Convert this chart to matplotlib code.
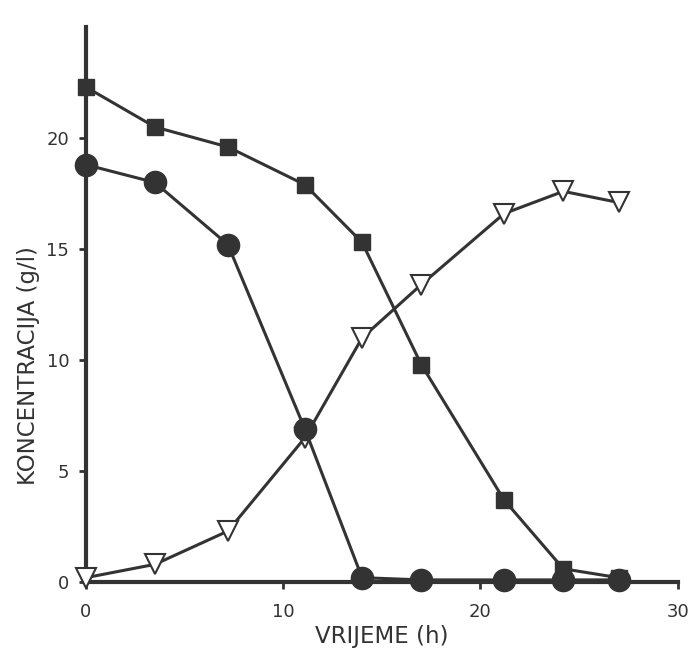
import matplotlib
matplotlib.use("Agg")
import matplotlib.pyplot as plt

# time in hours
time_h = [0, 3.5, 7.2, 11.1, 14, 17, 21.2, 24.2, 27]

# series (g/l)
squares = [22.3, 20.5, 19.6, 17.9, 15.3, 9.8, 3.7, 0.6, 0.2]
circles = [18.8, 18.0, 15.2, 6.9, 0.2, 0.1, 0.1, 0.1, 0.1]
triangles = [0.2, 0.8, 2.3, 6.5, 11.0, 13.4, 16.6, 17.6, 17.1]

xticks = [0, 10, 20, 30]
yticks = [0, 5, 10, 15, 20]

ink = "#333333"

plt.rcParams['font.family'] = ['DejaVu Sans']

fig = plt.figure(figsize=(6.98, 6.6), dpi=100)
ax = fig.add_axes([0.123, 0.118, 0.848, 0.841])

ax.plot(time_h, squares, color=ink, lw=2.2, marker='s', markersize=11,
        markerfacecolor=ink, markeredgecolor=ink, clip_on=False, zorder=3)
ax.plot(time_h, triangles, color=ink, lw=2.2, marker='v', markersize=14,
        markerfacecolor='white', markeredgecolor=ink, markeredgewidth=1.5,
        clip_on=False, zorder=4)
ax.plot(time_h, circles, color=ink, lw=2.2, marker='o', markersize=16,
        markerfacecolor=ink, markeredgecolor=ink, clip_on=False, zorder=5)

ax.set_xlim(0, 30)
ax.set_ylim(0, 25)
ax.set_xticks(xticks)
ax.set_yticks(yticks)

for side in ['top', 'right']:
    ax.spines[side].set_visible(False)
for side in ['left', 'bottom']:
    ax.spines[side].set_linewidth(3)
    ax.spines[side].set_color(ink)

ax.tick_params(axis='both', direction='out', length=5, width=2, color=ink,
               labelsize=13, labelcolor=ink)
ax.tick_params(axis='y', pad=7)
ax.tick_params(axis='x', pad=10)

ax.set_xlabel("VRIJEME (h)", fontsize=16.5, color=ink, labelpad=3)
ax.set_ylabel("KONCENTRACIJA (g/l)", fontsize=16.5, color=ink)
ax.yaxis.set_label_coords(-0.078, 0.39)

fig.savefig("out.png", dpi=100)
